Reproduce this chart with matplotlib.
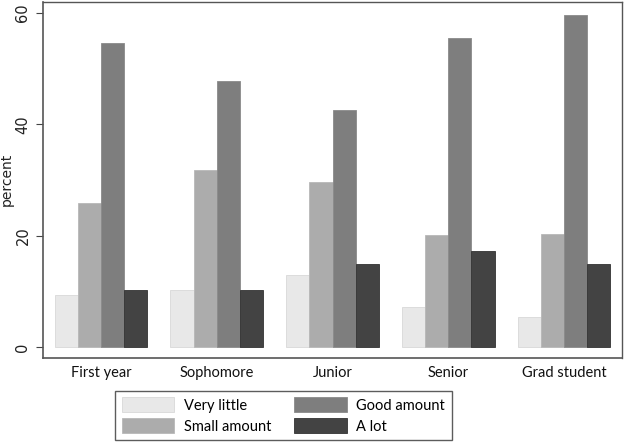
import matplotlib
matplotlib.use("Agg")
import matplotlib.pyplot as plt
import numpy as np
from matplotlib.patches import Patch

categories = ["First year", "Sophomore", "Junior", "Senior", "Grad student"]
series_names = ["Very little", "Small amount", "Good amount", "A lot"]
very_little = [9.3, 10.2, 12.9, 7.2, 5.4]
small_amount = [25.8, 31.8, 29.6, 20.2, 20.3]
good_amount = [54.6, 47.8, 42.6, 55.6, 59.6]
a_lot = [10.3, 10.2, 14.9, 17.2, 14.9]
yticks = [0, 20, 40, 60]

colors = ["#e8e8e8", "#acacac", "#7e7e7e", "#434343"]
edges = ["#d8d8d8", "#b8b8b8", "#8a8a8a", "#333333"]

fig = plt.figure(figsize=(6.24, 4.45), dpi=100)
ax = fig.add_axes([43/624, 1 - 358/445, (622-43)/624, (358-2)/445])

x = np.arange(len(categories))
w = 0.2
for i, (vals, c, ec) in enumerate(zip([very_little, small_amount, good_amount, a_lot], colors, edges)):
    ax.bar(x + (i - 1.5) * w, vals, width=w, color=c, edgecolor=ec, linewidth=0.6)

ax.set_xlim(-0.5, 4.5)
ax.set_ylim(-2, 62)
ax.set_yticks(yticks)
ax.set_yticklabels([str(t) for t in yticks], rotation=90, va="center", fontsize=10.5, color="#222222")
ax.set_xticks(x)
ax.set_xticklabels(categories, fontsize=10.5, family="Lato", color="#111111")
ax.tick_params(axis="x", length=0, pad=6)
ax.tick_params(axis="y", length=5, width=0.8, color="#444444", pad=4)
fig.text(7/624, 1 - 179/445, "percent", rotation=90, ha="center", va="center",
         fontsize=10, color="#222222")
for s in ax.spines.values():
    s.set_color("#555555")
    s.set_linewidth(1.0)
ax.spines["left"].set_linewidth(1.2)
ax.spines["bottom"].set_linewidth(1.2)

handles = [Patch(facecolor=c, edgecolor=ec, linewidth=0.6) for c, ec in zip(colors, edges)]
leg = fig.legend(handles, series_names, loc="center", ncol=2,
                 bbox_to_anchor=((115 + 452) / 2 / 624, 1 - (388 + 443) / 2 / 445),
                 prop={"family": "Lato", "size": 10.5}, frameon=True, fancybox=False,
                 handlelength=3.6, handleheight=1.2, columnspacing=1.6, handletextpad=0.65,
                 labelspacing=0.4, borderpad=0.45, borderaxespad=0)
leg.get_frame().set_edgecolor("#333333")
leg.get_frame().set_linewidth(1.0)

fig.savefig("out.png", dpi=100)
